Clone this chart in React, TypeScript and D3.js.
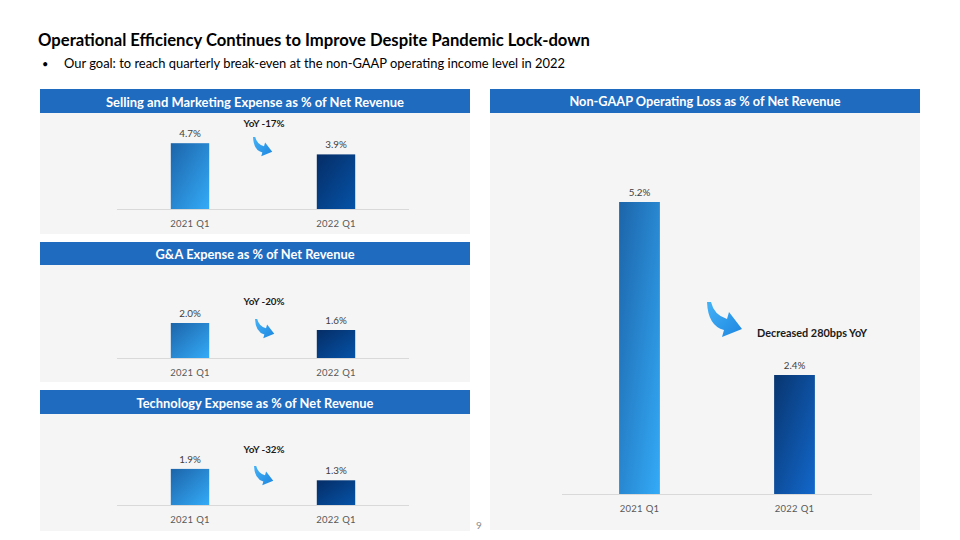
import React from "react";
import * as d3 from "d3";

const categories = ["2021 Q1", "2022 Q1"];
const sellingMarketing = [4.7, 3.9];
const gAndA = [2.0, 1.6];
const technology = [1.9, 1.3];
const nonGaapOpLoss = [5.2, 2.4];
const leftTitles = [
  "Selling and Marketing Expense as % of Net Revenue",
  "G&A Expense as % of Net Revenue",
  "Technology Expense as % of Net Revenue",
];
const rightTitle = "Non-GAAP Operating Loss as % of Net Revenue";
const yoyLabels = ["YoY -17%", "YoY -20%", "YoY -32%"];
const opLossNote = "Decreased 280bps YoY";
const pageTitle = "Operational Efficiency Continues to Improve Despite Pandemic Lock-down";
const bulletText = "Our goal: to reach quarterly break-even at the non-GAAP operating income level in 2022";
const pageNumber = "9";

const FONT = "Lato, 'Open Sans', sans-serif";
const HEADER = "#1F6BC0";
const BODY = "#F5F5F5";
const ARROW_PATH = "M0,0 L4,0 Q7,13 20,17 L22,10 L35,27 L15,35 L17,28 Q1,24 0,0 Z";

const fmt = (v: number) => d3.format(".1f")(v) + "%";

type Spec = {
  values: number[];
  title: string;
  titleLen: number;
  x0: number;
  x1: number;
  headTop: number;
  headBot: number;
  bodyBot: number;
  plotX0: number;
  plotX1: number;
  baseline: number;
  domain: [number, number];
  top: number;
  yoy?: string;
  yoyY?: number;
  arrowX: number;
  arrowY: number;
  arrowScale: number;
  note?: string;
  noteX?: number;
  noteY?: number;
  titleY: number;
  grad2022: string;
};

function Panel({ s }: { s: Spec }) {
  const x = d3.scaleBand<string>().domain(categories).range([s.plotX0, s.plotX1]).paddingInner(0.737).paddingOuter(0.3685);
  const y = d3.scaleLinear().domain(s.domain).range([s.baseline, s.top]);
  const cx = (s.x0 + s.x1) / 2;
  const midX = (x(categories[0])! + x(categories[1])! + x.bandwidth()) / 2;
  return (
    <g>
      <rect x={s.x0} y={s.headBot} width={s.x1 - s.x0} height={s.bodyBot - s.headBot} fill={BODY} />
      <rect x={s.x0} y={s.headTop} width={s.x1 - s.x0} height={s.headBot - s.headTop} fill={HEADER} />
      <text x={cx} y={s.titleY} textAnchor="middle" dominantBaseline="central" fill="#fff" fontWeight="bold" fontSize={12.8} fontFamily={FONT} textLength={s.titleLen} lengthAdjust="spacingAndGlyphs">
        {s.title}
      </text>
      <line x1={s.plotX0} x2={s.plotX1} y1={s.baseline + 0.5} y2={s.baseline + 0.5} stroke="#D9D9D9" strokeWidth={1.2} />
      {s.values.map((v, i) => (
        <g key={i}>
          <rect x={x(categories[i])} y={y(v)} width={x.bandwidth()} height={s.baseline - y(v)} fill={i === 0 ? "url(#g2021)" : `url(#${s.grad2022})`} />
          <text x={x(categories[i])! + x.bandwidth() / 2} y={y(v) - 10} textAnchor="middle" dominantBaseline="central" fontSize={9.8} fill="#404040" fontFamily={FONT}>
            {fmt(v)}
          </text>
          <text x={x(categories[i])! + x.bandwidth() / 2} y={s.baseline + 14} textAnchor="middle" dominantBaseline="central" fontSize={9.5} fill="#595959" fontFamily={FONT} letterSpacing={0.3}>
            {categories[i]}
          </text>
        </g>
      ))}
      {s.yoy && (
        <text x={midX + 1} y={s.yoyY} textAnchor="middle" dominantBaseline="central" fontSize={9.8} fontWeight="bold" fill="#1a1a1a" fontFamily={FONT}>
          {s.yoy}
        </text>
      )}
      <path d={ARROW_PATH} transform={`translate(${s.arrowX},${s.arrowY}) scale(${s.arrowScale})`} fill="url(#garrow)" />
      {s.note && (
        <text x={s.noteX} y={s.noteY} textAnchor="start" dominantBaseline="central" fontSize={11.5} fontWeight="bold" fill="#1a1a1a" fontFamily={FONT} textLength={110} lengthAdjust="spacingAndGlyphs">
          {s.note}
        </text>
      )}
    </g>
  );
}

export default function App() {
  const left: Spec[] = [
    {
      values: sellingMarketing, title: leftTitles[0], titleLen: 298, x0: 40, x1: 470, headTop: 89, headBot: 113, bodyBot: 234,
      plotX0: 117, plotX1: 409, baseline: 209, domain: [0, 5], top: 139, yoy: yoyLabels[0], yoyY: 122.5,
      arrowX: 253, arrowY: 137, arrowScale: 0.55, titleY: 101.5, grad2022: "g2022s",
    },
    {
      values: gAndA, title: leftTitles[1], titleLen: 199, x0: 40, x1: 470, headTop: 242, headBot: 265, bodyBot: 382,
      plotX0: 117, plotX1: 409, baseline: 358, domain: [0, 2], top: 323, yoy: yoyLabels[1], yoyY: 301,
      arrowX: 255, arrowY: 319, arrowScale: 0.55, titleY: 254, grad2022: "g2022s",
    },
    {
      values: technology, title: leftTitles[2], titleLen: 237, x0: 40, x1: 470, headTop: 390, headBot: 414, bodyBot: 531,
      plotX0: 117, plotX1: 409, baseline: 505, domain: [0, 2], top: 467, yoy: yoyLabels[2], yoyY: 449,
      arrowX: 254, arrowY: 466, arrowScale: 0.55, titleY: 402.5, grad2022: "g2022s",
    },
  ];
  const right: Spec = {
    values: nonGaapOpLoss, title: rightTitle, titleLen: 271, x0: 490, x1: 920, headTop: 89, headBot: 113, bodyBot: 530,
    plotX0: 562, plotX1: 872, baseline: 494, domain: [0.474, 5.2], top: 202,
    arrowX: 707, arrowY: 302, arrowScale: 1, note: opLossNote, noteX: 757, noteY: 332, titleY: 101, grad2022: "g2022",
  };
  return (
    <svg width={960} height={540} style={{ position: "absolute", left: 0, top: 0, background: "#fff" }}>
      <defs>
        <linearGradient id="g2021" x1="0" y1="0" x2="1" y2="1">
          <stop offset="0" stopColor="#1C64A9" />
          <stop offset="1" stopColor="#34ABF8" />
        </linearGradient>
        <linearGradient id="g2022" x1="0" y1="0" x2="1" y2="1">
          <stop offset="0" stopColor="#08356F" />
          <stop offset="1" stopColor="#1268CC" />
        </linearGradient>
        <linearGradient id="g2022s" x1="0" y1="0" x2="1" y2="1">
          <stop offset="0" stopColor="#052D66" />
          <stop offset="1" stopColor="#0553A8" />
        </linearGradient>
        <linearGradient id="garrow" x1="0" y1="0" x2="1" y2="1">
          <stop offset="0" stopColor="#45B2F7" />
          <stop offset="1" stopColor="#1C86E0" />
        </linearGradient>
      </defs>
      <rect x={0} y={0} width={960} height={540} fill="#fff" />
      <text x={38} y={40} dominantBaseline="central" fontSize={16.5} fontWeight="bold" fill="#000" fontFamily={FONT} textLength={552} lengthAdjust="spacingAndGlyphs">
        {pageTitle}
      </text>
      <text x={42} y={63} dominantBaseline="central" fontSize={11} fill="#000" fontFamily={FONT}>•</text>
      <text x={64} y={63} dominantBaseline="central" fontSize={12.8} fill="#000" fontFamily={FONT} textLength={501} lengthAdjust="spacingAndGlyphs">
        {bulletText}
      </text>
      {left.map((s, i) => (
        <Panel key={i} s={s} />
      ))}
      <Panel s={right} />
      <text x={479} y={525} textAnchor="middle" dominantBaseline="central" fontSize={10} fill="#8C8C8C" fontFamily={FONT}>
        {pageNumber}
      </text>
    </svg>
  );
}
